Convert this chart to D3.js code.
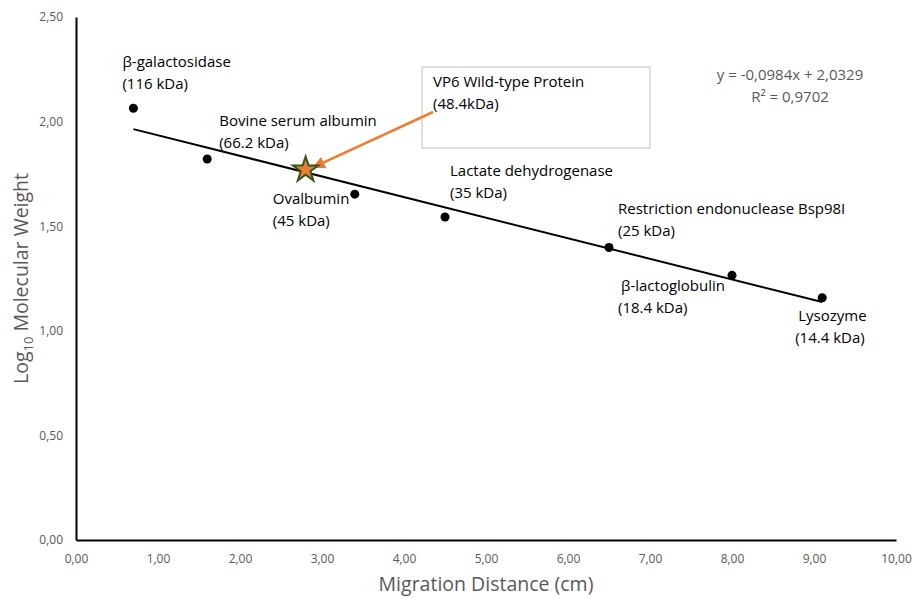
<!DOCTYPE html>
<html>
<head>
<meta charset="utf-8">
<script src="https://cdn.jsdelivr.net/npm/d3@7"></script>
<style>
  body { margin: 0; background: #fff; }
  text { font-family: "Open Sans", "Noto Sans", sans-serif; }
</style>
</head>
<body>
<script>
// Data
const proteins = ["β-galactosidase", "Bovine serum albumin", "Ovalbumin", "Lactate dehydrogenase",
  "Restriction endonuclease Bsp98I", "β-lactoglobulin", "Lysozyme"];
const kda = ["116", "66.2", "45", "35", "25", "18.4", "14.4"];
const distance = [0.7, 1.6, 3.4, 4.5, 6.5, 8.0, 9.1];
const logMW = [2.064, 1.821, 1.653, 1.544, 1.398, 1.265, 1.158];
const unknownX = 2.8, unknownY = 1.77;
const slope = -0.0984, intercept = 2.0329;
const xTicks = [0, 1, 2, 3, 4, 5, 6, 7, 8, 9, 10];
const yTicks = [0, 0.5, 1, 1.5, 2, 2.5];

const width = 914, height = 598;
const margin = {top: 17, right: 18, bottom: 58, left: 76};
const labelSize = "15px";

const svg = d3.select("body").append("svg")
  .attr("width", width).attr("height", height);

const x = d3.scaleLinear().domain([0, 10]).range([margin.left, width - margin.right]);
const y = d3.scaleLinear().domain([0, 2.5]).range([height - margin.bottom, margin.top]);
const fmt = d => d.toFixed(2).replace(".", ",");

// axes
const xAxis = svg.append("g")
  .attr("transform", `translate(0,${y(0)})`)
  .call(d3.axisBottom(x).tickValues(xTicks).tickFormat(fmt).tickSize(0).tickPadding(14));
const yAxis = svg.append("g")
  .attr("transform", `translate(${x(0)},0)`)
  .call(d3.axisLeft(y).tickValues(yTicks).tickFormat(fmt).tickSize(0).tickPadding(13));
[xAxis, yAxis].forEach(a => {
  a.select(".domain").attr("stroke", "#000").attr("stroke-width", 2);
  a.selectAll("text").attr("fill", "#595959").style("font-size", "12px");
});

// axis titles
svg.append("text")
  .attr("x", (x(0) + x(10)) / 2).attr("y", 591)
  .attr("text-anchor", "middle").attr("fill", "#595959")
  .style("font-size", "19.5px").text("Migration Distance (cm)");
const yt = svg.append("text")
  .attr("transform", `translate(28,${y(1.25)}) rotate(-90)`)
  .attr("text-anchor", "middle").attr("fill", "#595959")
  .style("font-size", "19.5px");
yt.append("tspan").text("Log");
yt.append("tspan").attr("dy", 5).style("font-size", "13px").text("10");
yt.append("tspan").attr("dy", -5).text(" Molecular Weight");

// trend line
const xMin = d3.min(distance), xMax = d3.max(distance);
svg.append("line")
  .attr("x1", x(xMin)).attr("y1", y(slope * xMin + intercept))
  .attr("x2", x(xMax)).attr("y2", y(slope * xMax + intercept))
  .attr("stroke", "#000").attr("stroke-width", 2);

// points
svg.selectAll("circle.pt").data(distance).enter().append("circle")
  .attr("class", "pt")
  .attr("cx", d => x(d)).attr("cy", (d, i) => y(logMW[i]))
  .attr("r", 4.5).attr("fill", "#000");

// labels (offsets from the point, px)
const labelOffset = [[-11, -41], [12, -33], [-82, 10], [5, -41], [9, -34], [-111, 16], [-24, 23]];
const lab = svg.selectAll("g.lab").data(proteins).enter().append("g")
  .attr("class", "lab")
  .attr("transform", (d, i) => `translate(${x(distance[i]) + labelOffset[i][0]},${y(logMW[i]) + labelOffset[i][1]})`);
lab.append("text").attr("fill", "#000").style("font-size", labelSize).text(d => d);
lab.append("text").attr("y", 22).attr("x", (d, i) => i >= 5 ? -3 : 0)
  .attr("fill", "#000").style("font-size", labelSize).text((d, i) => `(${kda[i]} kDa)`);

// callout box and arrow
const boxX = 422, boxY = 67;
svg.append("rect").attr("x", boxX).attr("y", boxY).attr("width", 228).attr("height", 81)
  .attr("fill", "#fff").attr("stroke", "#bfbfbf").attr("stroke-width", 1);
svg.append("text").attr("x", boxX + 11).attr("y", boxY + 20)
  .attr("fill", "#000").style("font-size", labelSize).text("VP6 Wild-type Protein");
svg.append("text").attr("x", boxX + 11).attr("y", boxY + 42)
  .attr("fill", "#000").style("font-size", labelSize).text("(48.4kDa)");

svg.append("defs").append("marker")
  .attr("id", "arr").attr("viewBox", "0 0 10 10").attr("refX", 8).attr("refY", 5)
  .attr("markerWidth", 5).attr("markerHeight", 5).attr("orient", "auto")
  .append("path").attr("d", "M0,0 L10,5 L0,10 z").attr("fill", "#ED7D31");
svg.append("line")
  .attr("x1", boxX + 11).attr("y1", boxY + 45)
  .attr("x2", x(unknownX) + 9).attr("y2", y(unknownY) - 3)
  .attr("stroke", "#ED7D31").attr("stroke-width", 2.5).attr("marker-end", "url(#arr)");

// unknown protein star
svg.append("path")
  .attr("d", d3.symbol(d3.symbolStar, 200)())
  .attr("transform", `translate(${x(unknownX)},${y(unknownY)})`)
  .attr("fill", "#ED7D31").attr("stroke", "#375623").attr("stroke-width", 2);

// regression equation
const eq = svg.append("text").attr("x", 790).attr("y", 80)
  .attr("text-anchor", "middle").attr("fill", "#595959").style("font-size", "15px");
eq.append("tspan").attr("x", 790).text("y = -0,0984x + 2,0329");
eq.append("tspan").attr("x", 790).attr("dy", 22).text("R² = 0,9702");
</script>
</body>
</html>
